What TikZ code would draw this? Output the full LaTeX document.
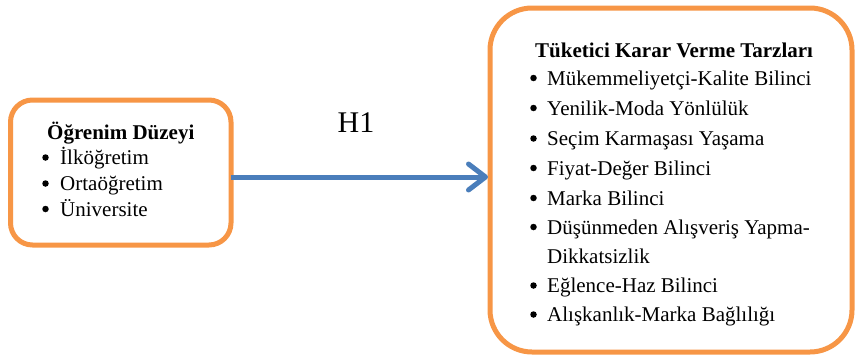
\documentclass[tikz,border=0pt]{standalone}
\usepackage{fontspec}
\setmainfont{Liberation Serif}
\usetikzlibrary{arrows.meta}
\definecolor{boxorange}{RGB}{247,150,70}
\definecolor{arrowblue}{RGB}{74,126,187}
\begin{document}
\begin{tikzpicture}[x=1pt,y=-1pt,
  framebox/.style={draw=boxorange,line width=5pt,fill=white},
  txt/.style={anchor=base west,inner sep=0pt,font=\fontsize{21}{25}\selectfont},
  ttl/.style={txt,font=\fontsize{21}{25}\selectfont\bfseries},
  bul/.style={circle,fill=black,inner sep=0pt,minimum size=6.5pt}]
\useasboundingbox (0,0) rectangle (856,356);
% boxes
\path[framebox,rounded corners=22pt] (10.5,100) rectangle (231,245);
\node[inner sep=0pt,minimum width=220.5pt,minimum height=145pt] (left) at (120.75,172.5) {};
\path[framebox,rounded corners=42pt] (490,8) rectangle (852,352);
\node[inner sep=0pt,minimum width=362pt,minimum height=344pt] (right) at (671,180) {};
% left texts
\node[ttl] (lt) at (47,139) {Öğrenim Düzeyi};
\foreach \y/\t [count=\i] in {164.5/İlköğretim,190.5/Ortaöğretim,216/Üniversite}{
  \node[bul] (lb\i) at (45.5,\y-7) {};
  \node[txt] (li\i) at (60,\y) {\t};
}
% right texts
\node[ttl] (rt) at (535,57) {Tüketici Karar Verme Tarzları};
\foreach \y/\t [count=\i] in {85/Mükemmeliyetçi-Kalite Bilinci,115/Yenilik-Moda Yönlülük,145.5/Seçim Karmaşası Yaşama,175/Fiyat-Değer Bilinci,205/Marka Bilinci,234/Düşünmeden Alışveriş Yapma-,292.5/Eğlence-Haz Bilinci,321.5/Alışkanlık-Marka Bağlılığı}{
  \node[bul] (rb\i) at (533.5,\y-7) {};
  \node[txt] (ri\i) at (547,\y) {\t};
}
\node[txt] (ri6b) at (547,263) {Dikkatsizlik};
% arrow
\coordinate (as) at (231,177);
\coordinate (ae) at (488,177);
\draw[arrowblue,line width=5pt,-{Straight Barb[length=17pt,width=26pt,round]}] (as) -- (ae);
\node[inner sep=0pt,anchor=base,font=\fontsize{30}{36}\selectfont] (h1) at (356,132) {H1};
\end{tikzpicture}
\end{document}
